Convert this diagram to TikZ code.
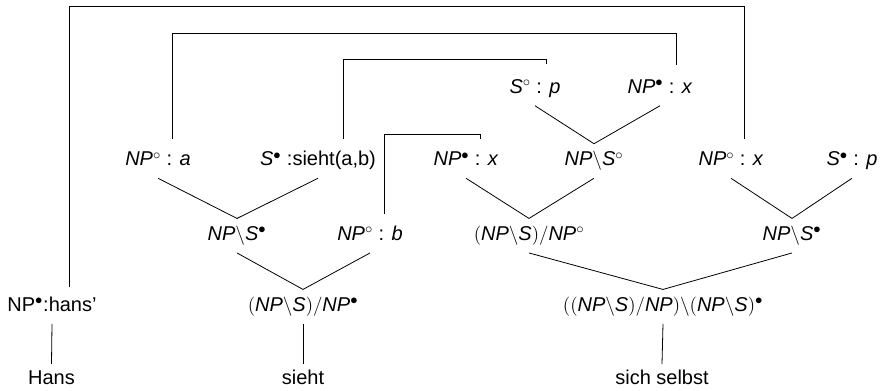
\documentclass[tikz,border=0pt]{standalone}
\usepackage{fontspec}
\setmainfont{Liberation Sans}
\usetikzlibrary{calc}
\newcommand{\ct}[1]{\textit{#1}}
\newcommand{\bsl}{\ensuremath{\backslash}}
\newcommand{\wsup}{\ensuremath{^{\circ}}}
\newcommand{\bsup}{\ensuremath{^{\bullet}}}
\newcommand{\lp}{\ensuremath{(}}
\newcommand{\rp}{\ensuremath{)}}
\newcommand{\sla}{\ensuremath{/}}
\begin{document}
\begin{tikzpicture}[x=0.75pt,y=-0.75pt,
  lbl/.style={anchor=base,inner xsep=0pt,inner ysep=6pt,text height=10.5pt,text depth=3pt,font=\fontsize{15}{18}\selectfont},
  word/.style={lbl,inner ysep=2pt},
  edge/.style={draw=black,line width=0.6pt},
  link/.style={draw=black,line width=0.6pt}]
\useasboundingbox (0,0) rectangle (886,391);
% row 1
\node[lbl] (sp1) at (535,93.5) {\ct{S}\wsup{} : \ct{p}};
\node[lbl] (npx1) at (660,93.5) {\ct{NP}\bsup{} : \ct{x}};
% row 2
\node[lbl] (npa) at (158,166) {\ct{NP}\wsup{} : \ct{a}};
\node[lbl] (ssieht) at (318,166) {\ct{S}\bsup{} :sieht(a,b)};
\node[lbl] (npx2) at (466,166) {\ct{NP}\bsup{} : \ct{x}};
\node[lbl] (npsc) at (594,166) {\ct{NP}\bsl\ct{S}\wsup};
\node[lbl] (npox) at (731,166) {\ct{NP}\wsup{} : \ct{x}};
\node[lbl] (sp2) at (852,166) {\ct{S}\bsup{} : \ct{p}};
% row 3
\node[lbl] (nps1) at (237,240.7) {\ct{NP}\bsl\ct{S}\bsup};
\node[lbl] (npb) at (370,240.7) {\ct{NP}\wsup{} : \ct{b}};
\node[lbl] (tv2) at (529,240.7) {\lp\ct{NP}\bsl\ct{S}\rp\sla\ct{NP}\wsup};
\node[lbl] (nps2) at (792,240.7) {\ct{NP}\bsl\ct{S}\bsup};
% row 4
\node[lbl] (hans) at (52,311.7) {NP\bsup:hans’};
\node[lbl] (tv1) at (303,311.7) {\lp\ct{NP}\bsl\ct{S}\rp\sla\ct{NP}\bsup};
\node[lbl] (refl) at (663,311.7) {\lp\lp\ct{NP}\bsl\ct{S}\rp\sla\ct{NP}\rp\bsl\lp\ct{NP}\bsl\ct{S}\rp\bsup};
% row 5
\node[word] (w1) at (51.5,385) {Hans};
\node[word] (w2) at (303,385) {sieht};
\node[word] (w3) at (662,385) {sich selbst};
% tree edges
\draw[edge] (sp1.south) -- (npsc.north);
\draw[edge] (npx1.south) -- (npsc.north);
\draw[edge] (npa.south) -- (nps1.north);
\draw[edge] (ssieht.south) -- (nps1.north);
\draw[edge] (npx2.south) -- (tv2.north);
\draw[edge] (npsc.south) -- (tv2.north);
\draw[edge] (npox.south) -- (nps2.north);
\draw[edge] (sp2.south) -- (nps2.north);
\draw[edge] (nps1.south) -- (tv1.north);
\draw[edge] (npb.south) -- (tv1.north);
\draw[edge] (tv2.south) -- (refl.north);
\draw[edge] (nps2.south) -- (refl.north);
\draw[edge] (hans.south) -- ([yshift=3pt]w1.north);
\draw[edge] (tv1.south) -- ([yshift=3pt]w2.north);
\draw[edge] (refl.south) -- ([yshift=3pt]w3.north);
% axiom links
\coordinate (top1) at (0,6.5);
\coordinate (top2) at (0,33.5);
\coordinate (top3) at (0,59.7);
\coordinate (top4) at (0,134.7);
\coordinate (f1a) at ($(hans.north)+(17.5,-2)$);
\coordinate (f1b) at ($(npox.north)+(13,-5)$);
\coordinate (f2a) at ($(npa.north)+(14,-5)$);
\coordinate (f2b) at ($(npx1.north)+(16,-6.5)$);
\coordinate (f3a) at ($(ssieht.north)+(25,-5)$);
\coordinate (f3b) at ($(sp1.north)+(11,-7.5)$);
\coordinate (f4a) at ($(npb.north)+(14,-4.7)$);
\coordinate (f4b) at ($(npx2.north)+(14,-5)$);
\draw[link] (f1a) -- (f1a |- top1) -| (f1b);
\draw[link] (f2a) -- (f2a |- top2) -| (f2b);
\draw[link] (f3a) -- (f3a |- top3) -| (f3b);
\draw[link] (f4a) -- (f4a |- top4) -| (f4b);
\end{tikzpicture}
\end{document}
